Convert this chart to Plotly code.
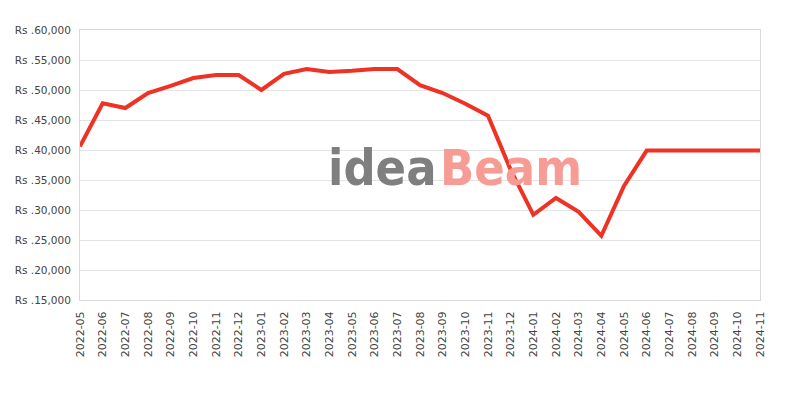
import plotly.graph_objects as go

months = ["2022-05", "2022-06", "2022-07", "2022-08", "2022-09", "2022-10", "2022-11",
          "2022-12", "2023-01", "2023-02", "2023-03", "2023-04", "2023-05", "2023-06",
          "2023-07", "2023-08", "2023-09", "2023-10", "2023-11", "2023-12", "2024-01",
          "2024-02", "2024-03", "2024-04", "2024-05", "2024-06", "2024-07", "2024-08",
          "2024-09", "2024-10", "2024-11"]
prices = [40600, 47800, 47000, 49500, 50700, 52000, 52500,
          52500, 50000, 52700, 53500, 53000, 53200, 53500,
          53500, 50800, 49500, 47700, 45700, 36700, 29200,
          32000, 29700, 25700, 34000, 39900, 39900, 39900,
          39900, 39900, 39900]
y_ticks = [15000, 20000, 25000, 30000, 35000, 40000, 45000, 50000, 55000, 60000]
y_tick_labels = ["Rs .15,000", "Rs .20,000", "Rs .25,000", "Rs .30,000", "Rs .35,000",
                 "Rs .40,000", "Rs .45,000", "Rs .50,000", "Rs .55,000", "Rs .60,000"]

fig = go.Figure()
fig.add_trace(go.Scatter(x=months, y=prices, mode="lines",
                         line=dict(color="#EE3224", width=4),
                         hoverinfo="x+y"))

fig.add_annotation(text="<b>idea</b>", xref="paper", yref="paper", x=0.5265, y=0.49,
                   xanchor="right", yanchor="middle", showarrow=False,
                   font=dict(family="DejaVu Sans Condensed", size=50, color="#7F7F7F"))
fig.add_annotation(text="<b>Beam</b>", xref="paper", yref="paper", x=0.5265, y=0.49,
                   xanchor="left", yanchor="middle", showarrow=False,
                   font=dict(family="DejaVu Sans Condensed", size=50, color="#F79C94"))

fig.update_layout(
    width=800, height=400,
    margin=dict(l=72, r=48, t=22, b=108),
    paper_bgcolor="white", plot_bgcolor="white",
    showlegend=False,
    font=dict(family="DejaVu Sans", size=11, color="#444444"),
)
fig.update_xaxes(type="category", range=[0, len(months) - 1], tickangle=-90,
                 showgrid=False, showline=True, linecolor="#d9d9d9", mirror=True,
                 ticks="", automargin=False, ticklabelstandoff=6,
                 tickfont=dict(size=11, color="#444444"))
fig.update_yaxes(range=[15000, 60000], tickmode="array", tickvals=y_ticks,
                 ticktext=y_tick_labels, showgrid=True, gridcolor="#e3e3e3",
                 showline=True, linecolor="#d9d9d9", mirror=True, zeroline=False,
                 ticks="", automargin=False, ticklabelstandoff=6,
                 tickfont=dict(size=10.5, color="#444444"))

fig.write_html("out.html")
